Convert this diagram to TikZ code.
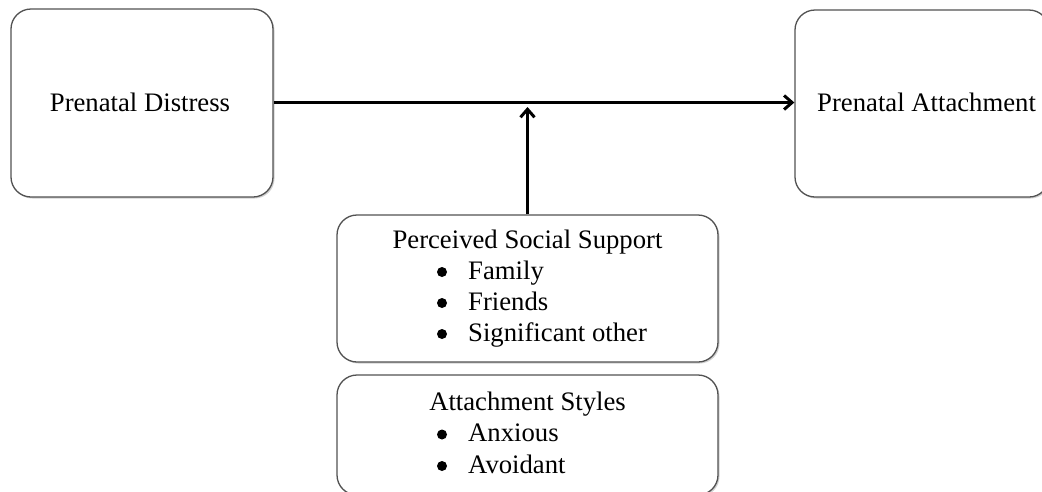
\documentclass[tikz,border=0pt]{standalone}
\usepackage{fontspec}
\setmainfont{Liberation Serif}
\usetikzlibrary{arrows.meta,shadows}
\begin{document}
\begin{tikzpicture}[x=1pt,y=-1pt,
  box/.style={draw=black!68, line width=1.3pt, rounded corners=20pt, fill=white, inner sep=0pt,
    drop shadow={shadow xshift=1.5pt, shadow yshift=-1.5pt, opacity=0.3, fill=black!60}},
  lbl/.style={font=\fontsize{26.7}{31}\selectfont, inner sep=0pt},
  conn/.style={line width=3.3pt, -{Straight Barb[length=8pt,width=14pt,line width=3pt]}},
  bul/.style={fill=black}]
\clip (0,0) rectangle (1042,491);
\fill[white] (0,0) rectangle (1042,491);
% boxes
\node[box, minimum width=254pt, minimum height=187pt] (att) at (922,103.5) {};
\node[box, minimum width=262pt, minimum height=188pt] (dist) at (142,103) {};
\node[box, minimum width=381pt, minimum height=147pt] (pss) at (527.5,288.5) {};
\node[box, minimum width=381pt, minimum height=120pt] (ast) at (527.5,435) {};
% texts
\node[lbl, anchor=base] (tdist) at (140,111) {Prenatal Distress};
\node[lbl, anchor=base west] (tatt) at (817,111) {Prenatal Attachment};
\node[lbl, anchor=base] (tpss) at (527.5,248) {Perceived Social Support};
\node[lbl, anchor=base west] (tfam) at (468,279) {Family};
\node[lbl, anchor=base west] (tfri) at (468,310) {Friends};
\node[lbl, anchor=base west] (tsig) at (468,341) {Significant other};
\node[lbl, anchor=base] (tast) at (527.5,410) {Attachment Styles};
\node[lbl, anchor=base west] (tanx) at (468,441.5) {Anxious};
\node[lbl, anchor=base west] (tavo) at (468,473) {Avoidant};
% bullets
\foreach \yy in {279,310,341,441.5,473} {
  \fill[bul] (442,\yy-7) circle[radius=5pt];
}
% connectors
\coordinate (mod) at (527.5,107);
\draw[conn] (dist.east |- 0,102.5) -- (att.west |- 0,102.5);
\draw[conn] (pss.north) -- (mod);
\end{tikzpicture}
\end{document}
